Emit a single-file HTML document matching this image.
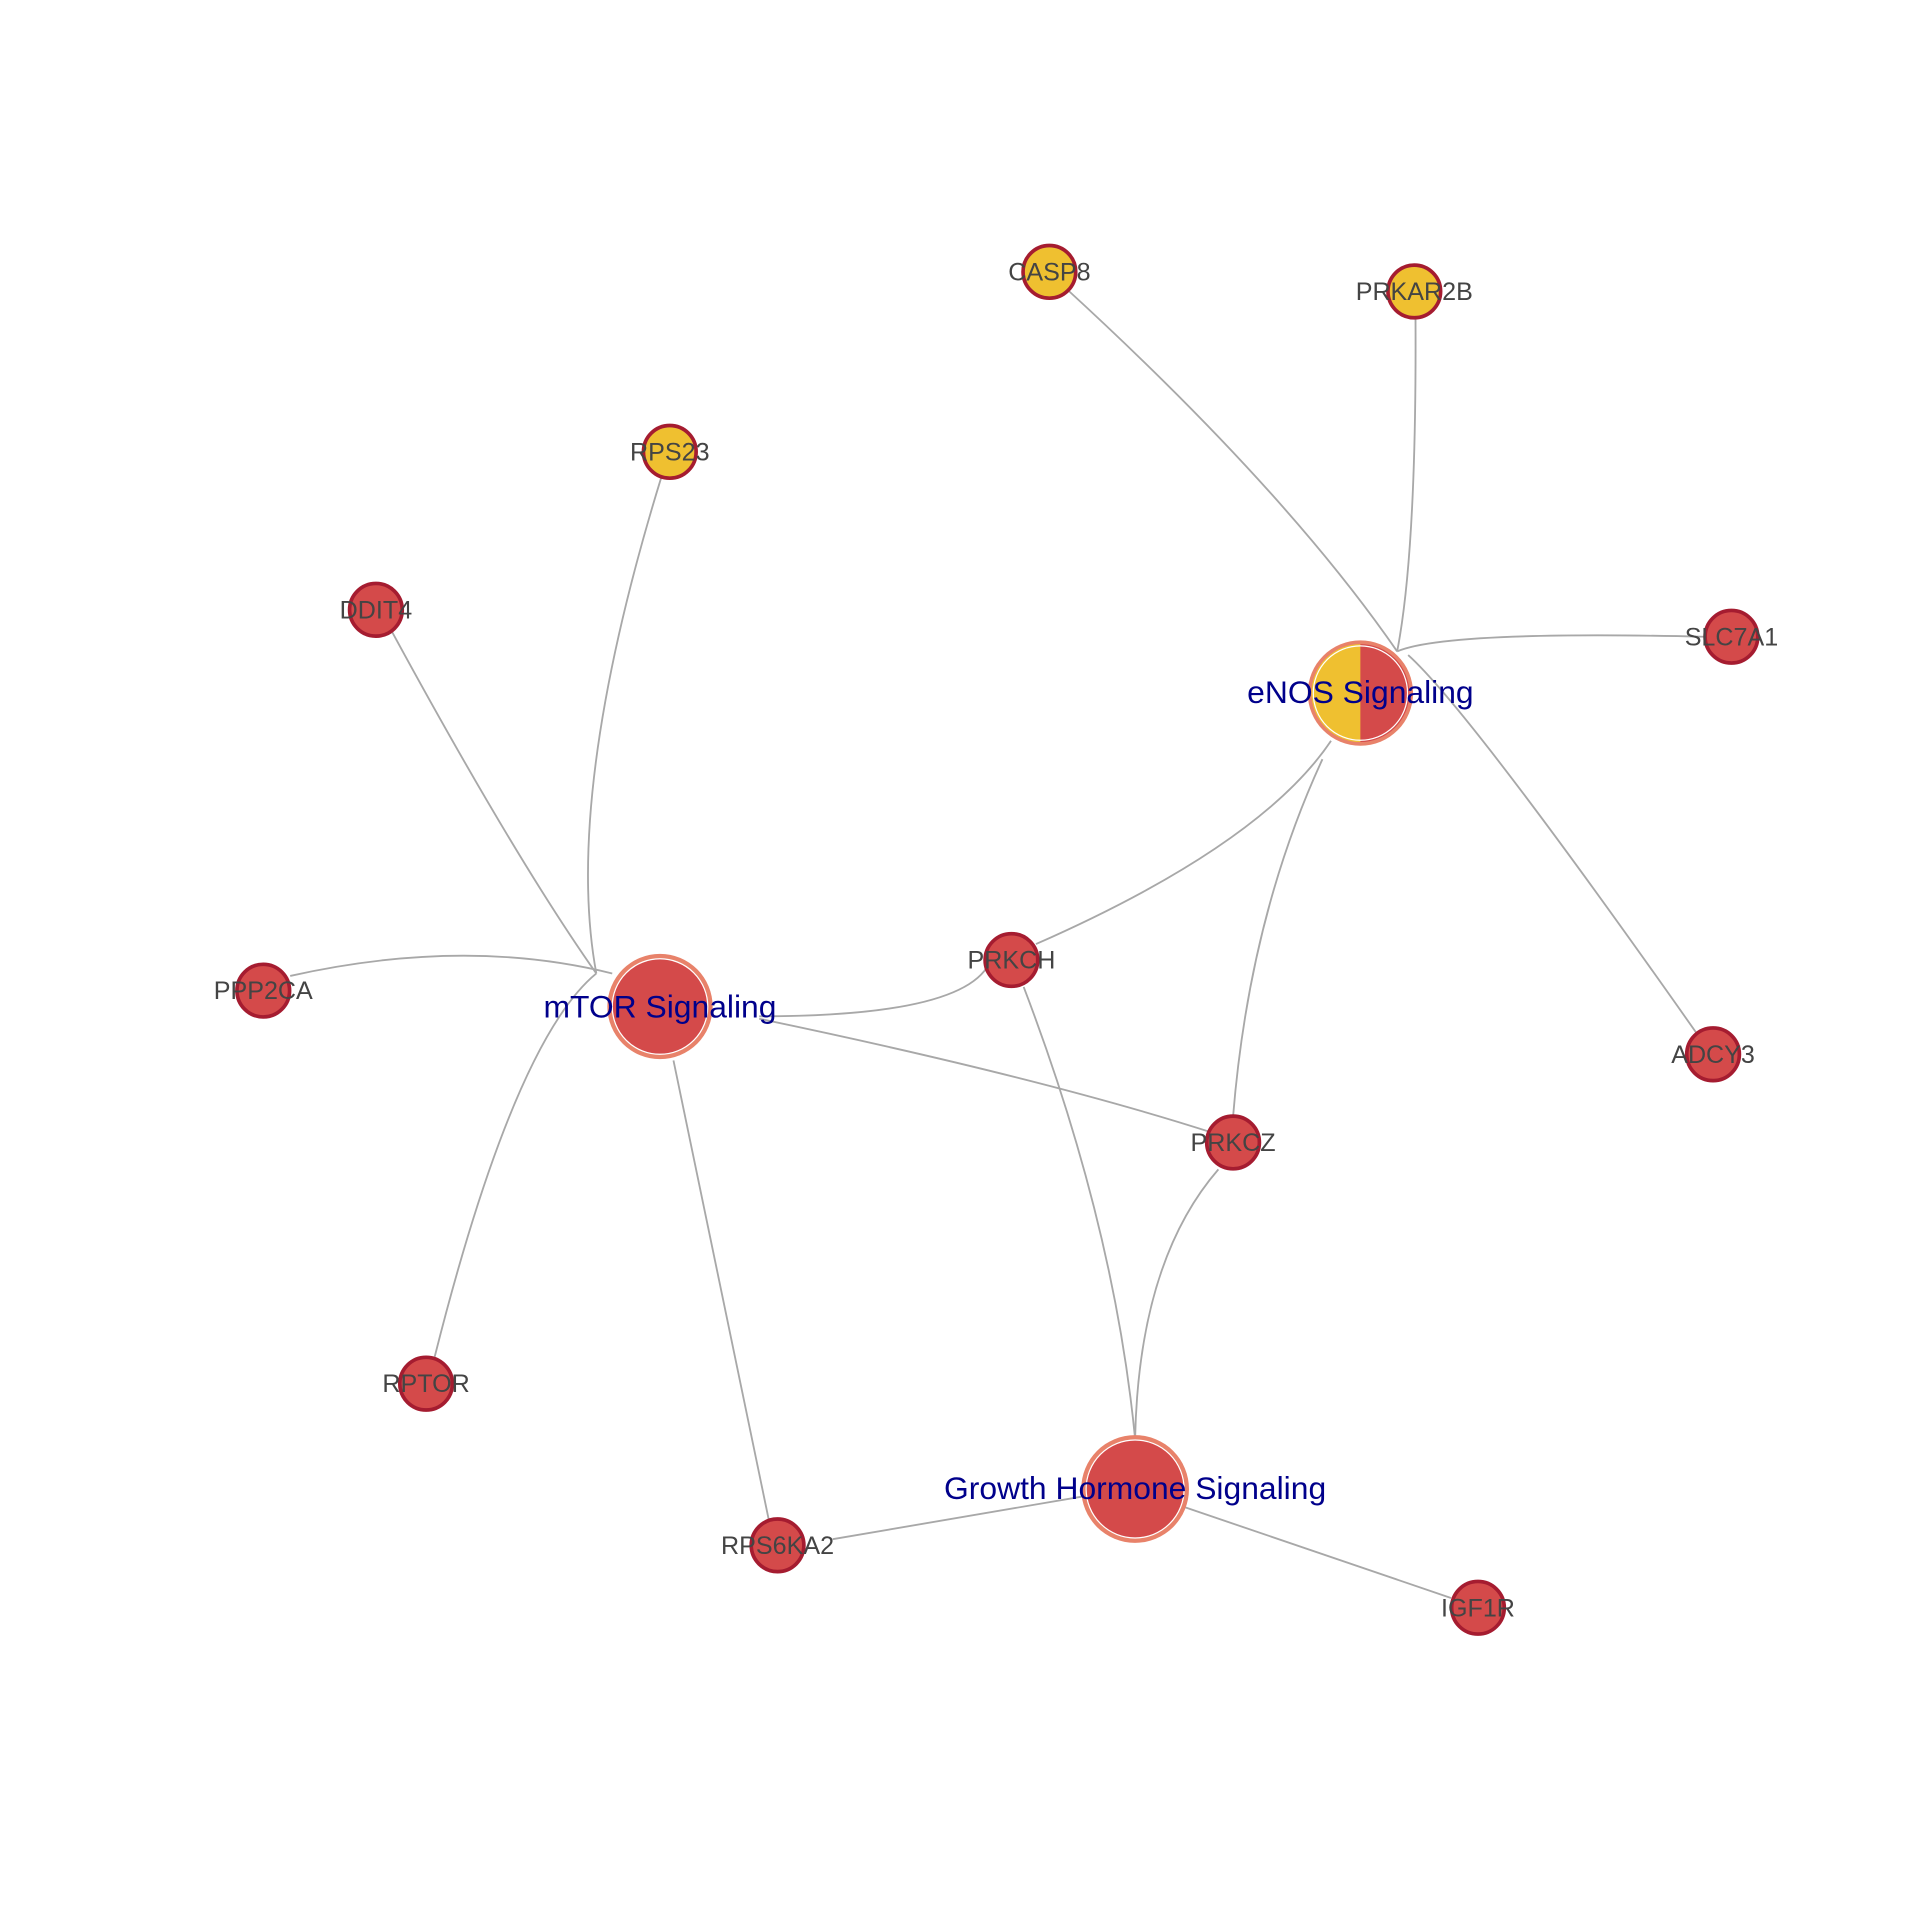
<!DOCTYPE html>
<html><head><meta charset="utf-8"><style>html,body{margin:0;padding:0;background:#fff}svg{display:block}</style></head>
<body>
<svg width="1920" height="1920" viewBox="0 0 1568 1568" xmlns="http://www.w3.org/2000/svg">
<g fill="none" stroke="#a8a8a8" stroke-width="1.5">
<path d="M870 235 Q1050 400 1141 532"/>
<path d="M1156 260 Q1157 450 1141 532"/>
<path d="M1392 520 Q1180 515 1141 532"/>
<path d="M1385 843 Q1200 580 1150 535"/>
<path d="M1087 605 Q1030 690 846 771"/>
<path d="M1080 620 Q1020 750 1007 912"/>
<path d="M540 390 Q460 650 487 795"/>
<path d="M318 512 Q420 700 487 795"/>
<path d="M237 797 Q380 765 500 795"/>
<path d="M355 1108 Q420 850 487 795"/>
<path d="M620 830 Q780 830 806 790"/>
<path d="M620 832 Q850 880 990 925"/>
<path d="M550 866 L628 1242"/>
<path d="M836 806 Q910 1000 927 1175"/>
<path d="M995 955 Q930 1030 927 1175"/>
<path d="M885 1222 L680 1257"/>
<path d="M965 1230 L1185 1305"/>
</g>
<defs>
<clipPath id="ec"><circle cx="1111" cy="566" r="40"/></clipPath>
</defs>
<g>
<circle cx="1111" cy="566" r="43" fill="#e8826a"/>
<g clip-path="url(#ec)"><rect x="1060" y="520" width="51" height="100" fill="#efc030"/><rect x="1111" y="520" width="51" height="100" fill="#d44a4a"/></g>
<circle cx="1111" cy="566" r="38.5" fill="none" stroke="#fff" stroke-width="1"/>
<circle cx="539" cy="822" r="43" fill="#e8826a"/><circle cx="539" cy="822" r="39" fill="#d44a4a" stroke="#fff" stroke-width="1"/>
<circle cx="927" cy="1216" r="44" fill="#e8826a"/><circle cx="927" cy="1216" r="40" fill="#d44a4a" stroke="#fff" stroke-width="1"/>
</g>
<g stroke="#a51c30" stroke-width="3">
<circle cx="857" cy="222" r="21.5" fill="#efc030"/>
<circle cx="1155" cy="238" r="21.5" fill="#efc030"/>
<circle cx="547" cy="369" r="21.5" fill="#efc030"/>
<circle cx="307" cy="498" r="21.5" fill="#d44a4a"/>
<circle cx="1414" cy="520" r="21.5" fill="#d44a4a"/>
<circle cx="215" cy="809" r="21.5" fill="#d44a4a"/>
<circle cx="826" cy="784" r="21.5" fill="#d44a4a"/>
<circle cx="1399" cy="861" r="21.5" fill="#d44a4a"/>
<circle cx="1007" cy="933" r="21.5" fill="#d44a4a"/>
<circle cx="348" cy="1130" r="21.5" fill="#d44a4a"/>
<circle cx="635" cy="1262" r="21.5" fill="#d44a4a"/>
<circle cx="1207" cy="1313" r="21.5" fill="#d44a4a"/>
</g>
<g font-family="Liberation Sans, sans-serif" font-size="20.5" fill="#444" text-anchor="middle">
<text x="857" y="229">CASP8</text>
<text x="1155" y="245">PRKAR2B</text>
<text x="547" y="376">RPS23</text>
<text x="307" y="505">DDIT4</text>
<text x="1414" y="527">SLC7A1</text>
<text x="215" y="816">PPP2CA</text>
<text x="826" y="791">PRKCH</text>
<text x="1399" y="868">ADCY3</text>
<text x="1007" y="940">PRKCZ</text>
<text x="348" y="1137">RPTOR</text>
<text x="635" y="1269">RPS6KA2</text>
<text x="1207" y="1320">IGF1R</text>
</g>
<g font-family="Liberation Sans, sans-serif" font-size="26" fill="#00008b" text-anchor="middle">
<text x="1111" y="574">eNOS Signaling</text>
<text x="539" y="831">mTOR Signaling</text>
<text x="927" y="1224">Growth Hormone Signaling</text>
</g>
</svg>
</body></html>
